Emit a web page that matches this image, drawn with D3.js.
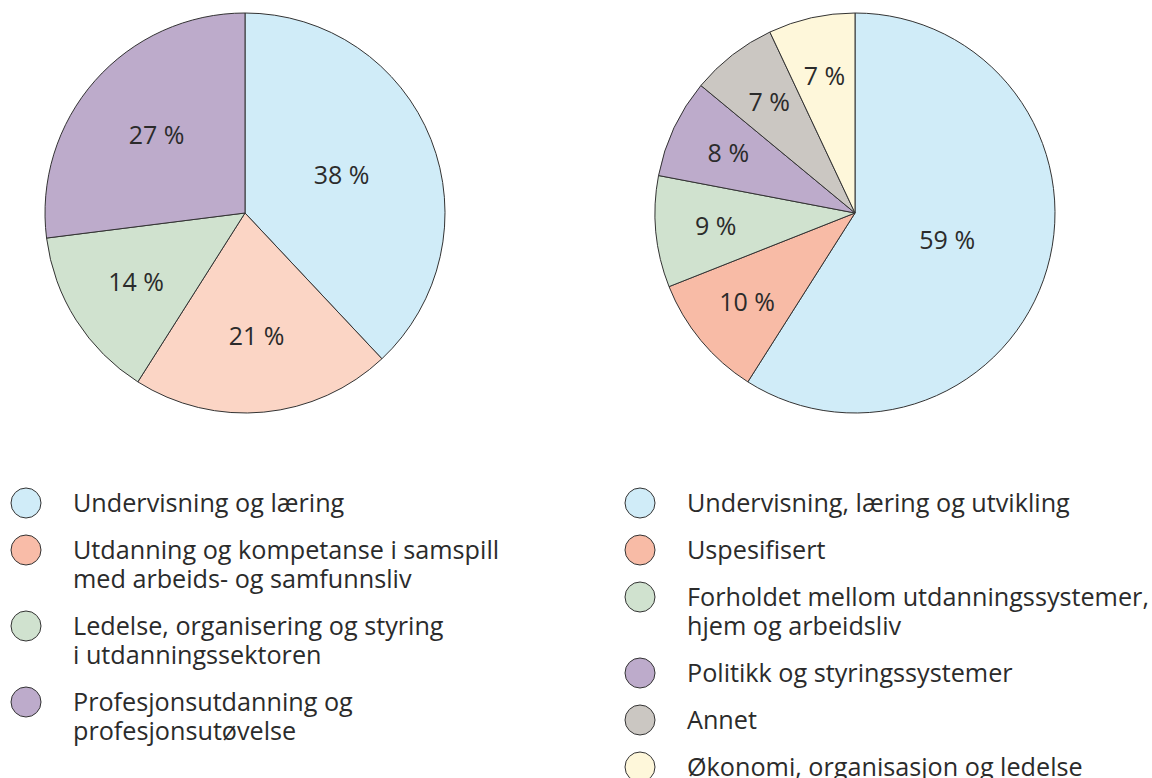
<!DOCTYPE html>
<html><head><meta charset="utf-8">
<script src="https://cdn.jsdelivr.net/npm/d3@7"></script>
<style>body{margin:0;background:#fff}svg{display:block}text{font-family:"Open Sans",sans-serif;fill:#2b2b2b}</style>
</head><body>
<svg id="c" width="1152" height="778"></svg>
<script>
// Left chart
const leftCategories = ["Undervisning og læring", "Utdanning og kompetanse i samspill|med arbeids- og samfunnsliv", "Ledelse, organisering og styring|i utdanningssektoren", "Profesjonsutdanning og|profesjonsutøvelse"];
const leftValues = [38, 21, 14, 27];
const leftColors = ["#d0ecf8", "#fbd5c5", "#d0e2cf", "#bdabcb"];
const leftLegendColors = ["#d0ecf8", "#f9bca8", "#d0e2cf", "#bdabcb"];
// Right chart
const rightCategories = ["Undervisning, læring og utvikling", "Uspesifisert", "Forholdet mellom utdanningssystemer,|hjem og arbeidsliv", "Politikk og styringssystemer", "Annet", "Økonomi, organisasjon og ledelse"];
const rightValues = [59, 10, 9, 8, 7, 7];
const rightColors = ["#d0ecf8", "#f8bba6", "#d0e2cf", "#bdabcb", "#cbc7c2", "#fef7da"];

const svg = d3.select("#c");
const R = 200;
const pie = d3.pie().sort(null).value(d => d);
const arc = d3.arc().innerRadius(0).outerRadius(R);

// label radius: sector area centroid, or fixed radius
const centroidR = d => { const t = d.endAngle - d.startAngle; return 4 * R * Math.sin(t / 2) / (3 * t); };
const fixedR = d => (d.endAngle - d.startAngle) > Math.PI ? 96 : 140;

function drawPie(cx, cy, values, colors, radiusFn) {
  const g = svg.append("g").attr("transform", `translate(${cx},${cy})`);
  const arcs = pie(values);
  g.selectAll("path").data(arcs).join("path")
    .attr("d", arc).attr("fill", (d, i) => colors[i])
    .attr("stroke", "#333").attr("stroke-width", 1).attr("stroke-linejoin", "round");
  g.selectAll("text").data(arcs).join("text")
    .attr("transform", d => {
      const r = radiusFn(d);
      const a = (d.startAngle + d.endAngle) / 2;
      return `translate(${Math.sin(a) * r},${-Math.cos(a) * r})`;
    })
    .attr("text-anchor", "middle").attr("dy", "0.35em")
    .style("font-size", "25px")
    .text(d => d.data + " %");
}

drawPie(245, 213, leftValues, leftColors, centroidR);
drawPie(855, 213, rightValues, rightColors, fixedR);

function drawLegend(x, y0, cats, colors) {
  const g = svg.append("g");
  let y = y0;
  cats.forEach((c, i) => {
    const lines = c.split("|");
    g.append("circle").attr("cx", x).attr("cy", y).attr("r", 15)
      .attr("fill", colors[i]).attr("stroke", "#333").attr("stroke-width", 1);
    const t = g.append("text").attr("x", x + 47).attr("y", y).style("font-size", "25.2px");
    lines.forEach((l, j) => {
      t.append("tspan").attr("x", x + 47).attr("y", y + j * 29).attr("dy", "0.35em").text(l);
    });
    y += (lines.length - 1) * 29 + 47;
  });
}
drawLegend(26, 503, leftCategories, leftLegendColors);
drawLegend(640, 503, rightCategories, rightColors);
</script>
</body></html>
